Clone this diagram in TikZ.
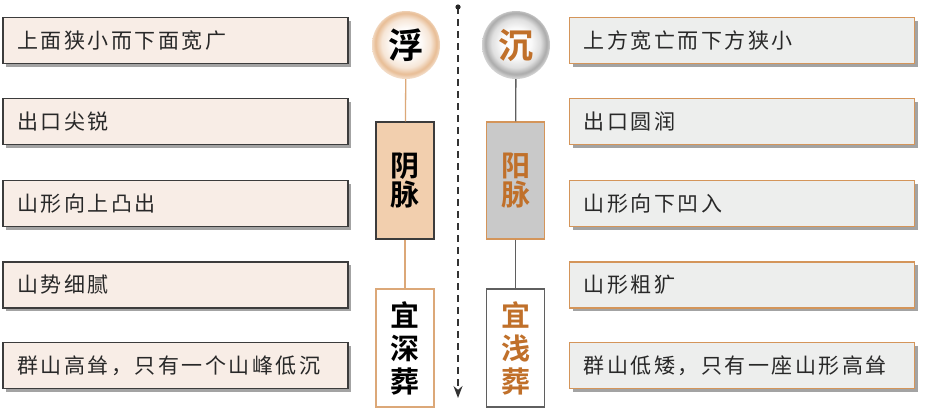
\documentclass[tikz,border=0pt]{standalone}
\usepackage{fontspec}
\usetikzlibrary{shadows,arrows.meta}
\newfontfamily\cjksans{Noto Sans CJK SC}[LetterSpace=12]
\newfontfamily\cjkserif{Noto Sans CJK SC Bold}
\definecolor{lfill}{RGB}{248,237,230}
\definecolor{rfill}{RGB}{237,238,237}
\definecolor{boxdark}{RGB}{60,60,60}
\definecolor{tanedge}{RGB}{212,149,90}
\definecolor{tanline}{RGB}{220,168,120}
\definecolor{yinfill}{RGB}{242,207,174}
\definecolor{yangfill}{RGB}{201,201,201}
\definecolor{orangetext}{RGB}{192,112,42}
\definecolor{txtgray}{RGB}{40,40,40}
\definecolor{grayline}{RGB}{95,95,95}
\definecolor{balltan}{RGB}{226,172,122}
\definecolor{ballgray}{RGB}{150,150,150}
\pgfdeclareradialshading{fuball}{\pgfpoint{0bp}{2bp}}{color(0bp)=(white); color(11bp)=(white!95!balltan); color(18bp)=(white!70!balltan); color(22.5bp)=(white!20!balltan); color(25bp)=(white!55!balltan); color(50bp)=(white)}
\pgfdeclareradialshading{chenball}{\pgfpoint{0bp}{2bp}}{color(0bp)=(white); color(11bp)=(white!95!ballgray); color(18bp)=(white!70!ballgray); color(22.5bp)=(white!20!ballgray); color(25bp)=(white!55!ballgray); color(50bp)=(white)}
\tikzset{
  sidebox/.style={line width=1.2pt, minimum height=46pt, text width=317pt, inner xsep=14pt, align=left,
    font=\cjksans\fontsize{21}{21}\selectfont, text=txtgray,
    drop shadow={shadow xshift=3pt, shadow yshift=-3pt, opacity=0.45, fill=black!80}},
  lbox/.style={sidebox, draw=boxdark, fill=lfill, minimum width=345pt},
  rbox/.style={sidebox, draw=tanedge, fill=rfill, minimum width=344pt},
  ball/.style={circle, minimum size=68pt, inner sep=0pt, font=\cjkserif\fontsize{35}{35}\selectfont},
  vbox/.style={line width=1.2pt, minimum width=58pt, align=center, inner sep=0pt},
  linkL/.style={draw=tanline, line width=1.3pt},
  linkR/.style={draw=grayline, line width=1.3pt}
}
\begin{document}
\begin{tikzpicture}[x=1pt,y=-1pt]
\useasboundingbox (0,0) rectangle (931,418);
\fill[white] (0,0) rectangle (931,418);
% left boxes
\node[lbox] (l1) at (175.5,40.5) {上面狭小而下面宽广};
\node[lbox] (l2) at (175.5,121.5) {出口尖锐};
\node[lbox] (l3) at (175.5,203.5) {山形向上凸出};
\node[lbox] (l4) at (175.5,285) {山势细腻};
\node[lbox] (l5) at (175.5,365.5) {群山高耸，只有一个山峰低沉};
% right boxes
\node[rbox] (r1) at (742,40.5) {上方宽亡而下方狭小};
\node[rbox] (r2) at (742,121.5) {出口圆润};
\node[rbox] (r3) at (742,203.5) {山形向下凹入};
\node[rbox] (r4) at (742,285) {山形粗犷};
\node[rbox] (r5) at (742,365.5) {群山低矮，只有一座山形高耸};
% centre column left
\node[ball, shading=fuball, text=black] (fu) at (406,45) {浮};
\node[vbox, draw=boxdark, fill=yinfill, minimum height=117pt, text=black,
  font=\cjkserif\fontsize{29}{29}\selectfont] (yin) at (405,180.5) {阴\\脉};
\node[vbox, draw=tanline, fill=white, minimum height=118pt, text=black,
  font=\cjkserif\fontsize{29}{33}\selectfont] (shen) at (405,348) {宜\\深\\葬};
\draw[linkL] (fu) -- (yin);
\draw[linkL] (yin) -- (shen);
% centre column right
\node[ball, shading=chenball, text=orangetext] (chen) at (516,45) {沉};
\node[vbox, draw=tanedge, fill=yangfill, minimum height=117pt, text=orangetext,
  font=\cjkserif\fontsize{29}{29}\selectfont] (yang) at (515.5,180.5) {阳\\脉};
\node[vbox, draw=grayline, fill=white, minimum height=118pt, text=orangetext,
  font=\cjkserif\fontsize{29}{33}\selectfont] (qian) at (515.5,348) {宜\\浅\\葬};
\draw[linkR] (chen) -- (yang);
\draw[linkR] (yang) -- (qian);
% dashed arrow
\coordinate (atop) at (458,7);
\coordinate (abot) at (458,398);
\draw[line width=1.4pt, draw=black!80, dash pattern=on 7pt off 5pt, -{Stealth[length=12pt,width=9pt]}] (atop) -- (abot);
\fill[black!85] (atop) circle (2.6pt);
\end{tikzpicture}
\end{document}
